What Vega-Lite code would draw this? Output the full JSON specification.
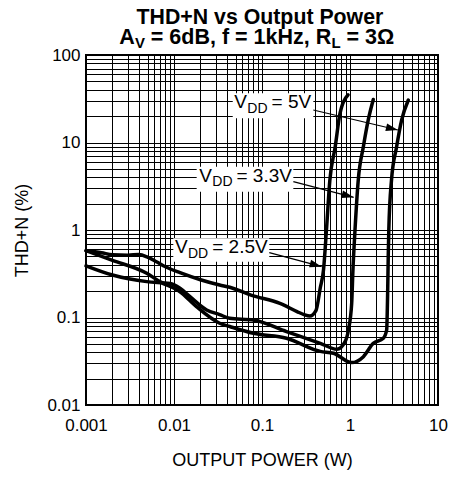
{
  "$schema": "https://vega.github.io/schema/vega-lite/v6.json",
  "width": 352,
  "height": 350,
  "autosize": {"type": "none"},
  "padding": {"left": 86, "top": 55, "right": 15, "bottom": 72},
  "background": "white",
  "config": {
    "view": {"stroke": "black", "strokeWidth": 2},
    "font": "Liberation Sans",
    "axis": {
      "domain": false,
      "ticks": false,
      "grid": true,
      "gridColor": "black",
      "gridWidth": 1,
      "gridOpacity": 1,
      "labelFont": "Liberation Sans",
      "labelFontSize": 17,
      "labelColor": "black",
      "titleFont": "Liberation Sans",
      "titleFontSize": 18,
      "titleFontWeight": "normal",
      "titleColor": "black",
      "labelOverlap": false,
      "labelFlush": false
    }
  },
  "datasets": {
    "curves": [
      {"series": "2.5V", "power": 0.001, "thd": 0.58},
      {"series": "2.5V", "power": 0.0015, "thd": 0.55},
      {"series": "2.5V", "power": 0.002, "thd": 0.52},
      {"series": "2.5V", "power": 0.003, "thd": 0.515},
      {"series": "2.5V", "power": 0.004, "thd": 0.525},
      {"series": "2.5V", "power": 0.005, "thd": 0.49},
      {"series": "2.5V", "power": 0.0064, "thd": 0.43},
      {"series": "2.5V", "power": 0.008, "thd": 0.38},
      {"series": "2.5V", "power": 0.0117, "thd": 0.325},
      {"series": "2.5V", "power": 0.02, "thd": 0.27},
      {"series": "2.5V", "power": 0.033, "thd": 0.235},
      {"series": "2.5V", "power": 0.043, "thd": 0.222},
      {"series": "2.5V", "power": 0.075, "thd": 0.18},
      {"series": "2.5V", "power": 0.16, "thd": 0.145},
      {"series": "2.5V", "power": 0.25, "thd": 0.117},
      {"series": "2.5V", "power": 0.3, "thd": 0.108},
      {"series": "2.5V", "power": 0.35, "thd": 0.104},
      {"series": "2.5V", "power": 0.41, "thd": 0.12},
      {"series": "2.5V", "power": 0.46, "thd": 0.22},
      {"series": "2.5V", "power": 0.5, "thd": 0.35},
      {"series": "2.5V", "power": 0.54, "thd": 1.0},
      {"series": "2.5V", "power": 0.59, "thd": 3.7},
      {"series": "2.5V", "power": 0.68, "thd": 9},
      {"series": "2.5V", "power": 0.77, "thd": 21.5},
      {"series": "2.5V", "power": 0.95, "thd": 35},
      {"series": "3.3V", "power": 0.001, "thd": 0.39},
      {"series": "3.3V", "power": 0.002, "thd": 0.306},
      {"series": "3.3V", "power": 0.0049, "thd": 0.257},
      {"series": "3.3V", "power": 0.009, "thd": 0.245},
      {"series": "3.3V", "power": 0.0117, "thd": 0.216},
      {"series": "3.3V", "power": 0.0152, "thd": 0.173},
      {"series": "3.3V", "power": 0.0235, "thd": 0.122},
      {"series": "3.3V", "power": 0.033, "thd": 0.108},
      {"series": "3.3V", "power": 0.043, "thd": 0.098},
      {"series": "3.3V", "power": 0.08, "thd": 0.0936},
      {"series": "3.3V", "power": 0.19, "thd": 0.069},
      {"series": "3.3V", "power": 0.46, "thd": 0.0507},
      {"series": "3.3V", "power": 0.71, "thd": 0.0433},
      {"series": "3.3V", "power": 0.88, "thd": 0.053},
      {"series": "3.3V", "power": 0.96, "thd": 0.072},
      {"series": "3.3V", "power": 1.045, "thd": 0.145},
      {"series": "3.3V", "power": 1.08, "thd": 0.35},
      {"series": "3.3V", "power": 1.14, "thd": 1.0},
      {"series": "3.3V", "power": 1.24, "thd": 3.7},
      {"series": "3.3V", "power": 1.42, "thd": 9},
      {"series": "3.3V", "power": 1.61, "thd": 18},
      {"series": "3.3V", "power": 1.84, "thd": 31},
      {"series": "5V", "power": 0.001, "thd": 0.58},
      {"series": "5V", "power": 0.002, "thd": 0.45},
      {"series": "5V", "power": 0.0049, "thd": 0.32},
      {"series": "5V", "power": 0.0069, "thd": 0.257},
      {"series": "5V", "power": 0.0117, "thd": 0.197},
      {"series": "5V", "power": 0.018, "thd": 0.133},
      {"series": "5V", "power": 0.033, "thd": 0.086},
      {"series": "5V", "power": 0.043, "thd": 0.079},
      {"series": "5V", "power": 0.08, "thd": 0.066},
      {"series": "5V", "power": 0.19, "thd": 0.058},
      {"series": "5V", "power": 0.46, "thd": 0.041},
      {"series": "5V", "power": 0.65, "thd": 0.039},
      {"series": "5V", "power": 1.045, "thd": 0.0305},
      {"series": "5V", "power": 1.42, "thd": 0.0357},
      {"series": "5V", "power": 1.84, "thd": 0.0507},
      {"series": "5V", "power": 2.39, "thd": 0.0578},
      {"series": "5V", "power": 2.61, "thd": 0.072},
      {"series": "5V", "power": 2.68, "thd": 0.2},
      {"series": "5V", "power": 2.72, "thd": 0.5},
      {"series": "5V", "power": 2.76, "thd": 1.0},
      {"series": "5V", "power": 2.96, "thd": 3.7},
      {"series": "5V", "power": 3.39, "thd": 9},
      {"series": "5V", "power": 3.86, "thd": 18},
      {"series": "5V", "power": 4.6, "thd": 30.6}
    ],
    "boxes": [
      {"label": "5V", "power": 0.0465, "power2": 0.383, "thd": 18.9, "thd2": 36.5},
      {"label": "3.3V", "power": 0.0181, "power2": 0.227, "thd": 2.74, "thd2": 5.3},
      {"label": "2.5V", "power": 0.00982, "power2": 0.121, "thd": 0.434, "thd2": 0.803}
    ],
    "arrows": [
      {"label": "5V", "power": 0.383, "thd": 23.5, "power2": 3.5, "thd2": 13.9},
      {"label": "3.3V", "power": 0.227, "thd": 3.565, "power2": 1.1, "thd2": 2.364},
      {"label": "2.5V", "power": 0.121, "thd": 0.551, "power2": 0.4766, "thd2": 0.381}
    ],
    "texts": [
      {"role": "title1", "text": "THD+N vs Output Power", "power": 0.0948, "thd": 223.2},
      {"role": "title", "text": "A", "power": 0.00239, "thd": 132.5},
      {"role": "titlesub", "text": "V", "power": 0.003602, "thd": 121.8},
      {"role": "title", "text": "= 6dB, f = 1kHz, R", "power": 0.005449, "thd": 132.5},
      {"role": "titlesub", "text": "L", "power": 0.6163, "thd": 121.8},
      {"role": "title", "text": "= 3Ω", "power": 0.9125, "thd": 132.5},
      {"role": "label", "text": "V", "power": 0.04842, "thd": 24.6},
      {"role": "labelsub", "text": "DD", "power": 0.0681, "thd": 21.9},
      {"role": "label", "text": "= 5V", "power": 0.1283, "thd": 24.6},
      {"role": "label", "text": "V", "power": 0.01939, "thd": 3.565},
      {"role": "labelsub", "text": "DD", "power": 0.02722, "thd": 3.175},
      {"role": "label", "text": "= 3.3V", "power": 0.05131, "thd": 3.565},
      {"role": "label", "text": "V", "power": 0.01026, "thd": 0.542},
      {"role": "labelsub", "text": "DD", "power": 0.01442, "thd": 0.4825},
      {"role": "label", "text": "= 2.5V", "power": 0.02716, "thd": 0.542}
    ]
  },
  "layer": [
    {
      "data": {"name": "curves"},
      "mark": {"type": "line", "stroke": "black", "strokeWidth": 3.5, "interpolate": "monotone", "strokeJoin": "round", "strokeCap": "round"},
      "encoding": {
        "x": {
          "field": "power", "type": "quantitative",
          "scale": {"type": "log", "domain": [0.001, 10]},
          "axis": {
            "title": "OUTPUT POWER (W)",
            "values": [0.001,0.002,0.003,0.004,0.005,0.006,0.007,0.008,0.009,0.01,0.02,0.03,0.04,0.05,0.06,0.07,0.08,0.09,0.1,0.2,0.3,0.4,0.5,0.6,0.7,0.8,0.9,1,2,3,4,5,6,7,8,9,10],
            "labelExpr": "abs(log(datum.value)/LN10 - round(log(datum.value)/LN10)) < 0.001 ? format(datum.value, '~g') : ''",
            "labelPadding": 12,
            "titlePadding": 18
          }
        },
        "y": {
          "field": "thd", "type": "quantitative",
          "scale": {"type": "log", "domain": [0.01, 100]},
          "axis": {
            "title": "THD+N (%)",
            "values": [0.01,0.02,0.03,0.04,0.05,0.06,0.07,0.08,0.09,0.1,0.2,0.3,0.4,0.5,0.6,0.7,0.8,0.9,1,2,3,4,5,6,7,8,9,10,20,30,40,50,60,70,80,90,100],
            "labelExpr": "abs(log(datum.value)/LN10 - round(log(datum.value)/LN10)) < 0.001 ? format(datum.value, '~g') : ''",
            "labelPadding": 6,
            "labelBaseline": "middle",
            "titlePadding": 15
          }
        },
        "detail": {"field": "series"}
      }
    },
    {
      "data": {"name": "boxes"},
      "mark": {"type": "rect", "fill": "white", "stroke": null},
      "encoding": {
        "x": {"field": "power", "type": "quantitative"},
        "x2": {"field": "power2"},
        "y": {"field": "thd", "type": "quantitative"},
        "y2": {"field": "thd2"}
      }
    },
    {
      "data": {"name": "arrows"},
      "mark": {"type": "rule", "stroke": "black", "strokeWidth": 1.2},
      "encoding": {
        "x": {"field": "power", "type": "quantitative"},
        "x2": {"field": "power2"},
        "y": {"field": "thd", "type": "quantitative"},
        "y2": {"field": "thd2"}
      }
    },
    {
      "data": {"name": "arrows"},
      "transform": [{"filter": "datum.label == '5V'"}],
      "mark": {"type": "point", "shape": "M0,0L-1,-0.32L-1,0.32Z", "filled": true, "fill": "black", "stroke": null, "opacity": 1, "size": 576, "angle": 13.5},
      "encoding": {
        "x": {"field": "power2", "type": "quantitative"},
        "y": {"field": "thd2", "type": "quantitative"}
      }
    },
    {
      "data": {"name": "arrows"},
      "transform": [{"filter": "datum.label == '3.3V'"}],
      "mark": {"type": "point", "shape": "M0,0L-1,-0.32L-1,0.32Z", "filled": true, "fill": "black", "stroke": null, "opacity": 1, "size": 576, "angle": 14.6},
      "encoding": {
        "x": {"field": "power2", "type": "quantitative"},
        "y": {"field": "thd2", "type": "quantitative"}
      }
    },
    {
      "data": {"name": "arrows"},
      "transform": [{"filter": "datum.label == '2.5V'"}],
      "mark": {"type": "point", "shape": "M0,0L-1,-0.32L-1,0.32Z", "filled": true, "fill": "black", "stroke": null, "opacity": 1, "size": 576, "angle": 15},
      "encoding": {
        "x": {"field": "power2", "type": "quantitative"},
        "y": {"field": "thd2", "type": "quantitative"}
      }
    },
    {
      "data": {"name": "texts"},
      "transform": [{"filter": "datum.role == 'label'"}],
      "mark": {"type": "text", "align": "left", "baseline": "alphabetic", "font": "Liberation Sans", "fontSize": 19, "fill": "black"},
      "encoding": {
        "x": {"field": "power", "type": "quantitative"},
        "y": {"field": "thd", "type": "quantitative"},
        "text": {"field": "text"}
      }
    },
    {
      "data": {"name": "texts"},
      "transform": [{"filter": "datum.role == 'labelsub'"}],
      "mark": {"type": "text", "align": "left", "baseline": "alphabetic", "font": "Liberation Sans", "fontSize": 14, "fill": "black"},
      "encoding": {
        "x": {"field": "power", "type": "quantitative"},
        "y": {"field": "thd", "type": "quantitative"},
        "text": {"field": "text"}
      }
    },
    {
      "data": {"name": "texts"},
      "transform": [{"filter": "datum.role == 'title1'"}],
      "mark": {"type": "text", "align": "center", "baseline": "alphabetic", "font": "Liberation Sans", "fontSize": 21.3, "fontWeight": "bold", "fill": "black"},
      "encoding": {
        "x": {"field": "power", "type": "quantitative"},
        "y": {"field": "thd", "type": "quantitative"},
        "text": {"field": "text"}
      }
    },
    {
      "data": {"name": "texts"},
      "transform": [{"filter": "datum.role == 'title'"}],
      "mark": {"type": "text", "align": "left", "baseline": "alphabetic", "font": "Liberation Sans", "fontSize": 21.5, "fontWeight": "bold", "fill": "black"},
      "encoding": {
        "x": {"field": "power", "type": "quantitative"},
        "y": {"field": "thd", "type": "quantitative"},
        "text": {"field": "text"}
      }
    },
    {
      "data": {"name": "texts"},
      "transform": [{"filter": "datum.role == 'titlesub'"}],
      "mark": {"type": "text", "align": "left", "baseline": "alphabetic", "font": "Liberation Sans", "fontSize": 15, "fontWeight": "bold", "fill": "black"},
      "encoding": {
        "x": {"field": "power", "type": "quantitative"},
        "y": {"field": "thd", "type": "quantitative"},
        "text": {"field": "text"}
      }
    }
  ]
}
